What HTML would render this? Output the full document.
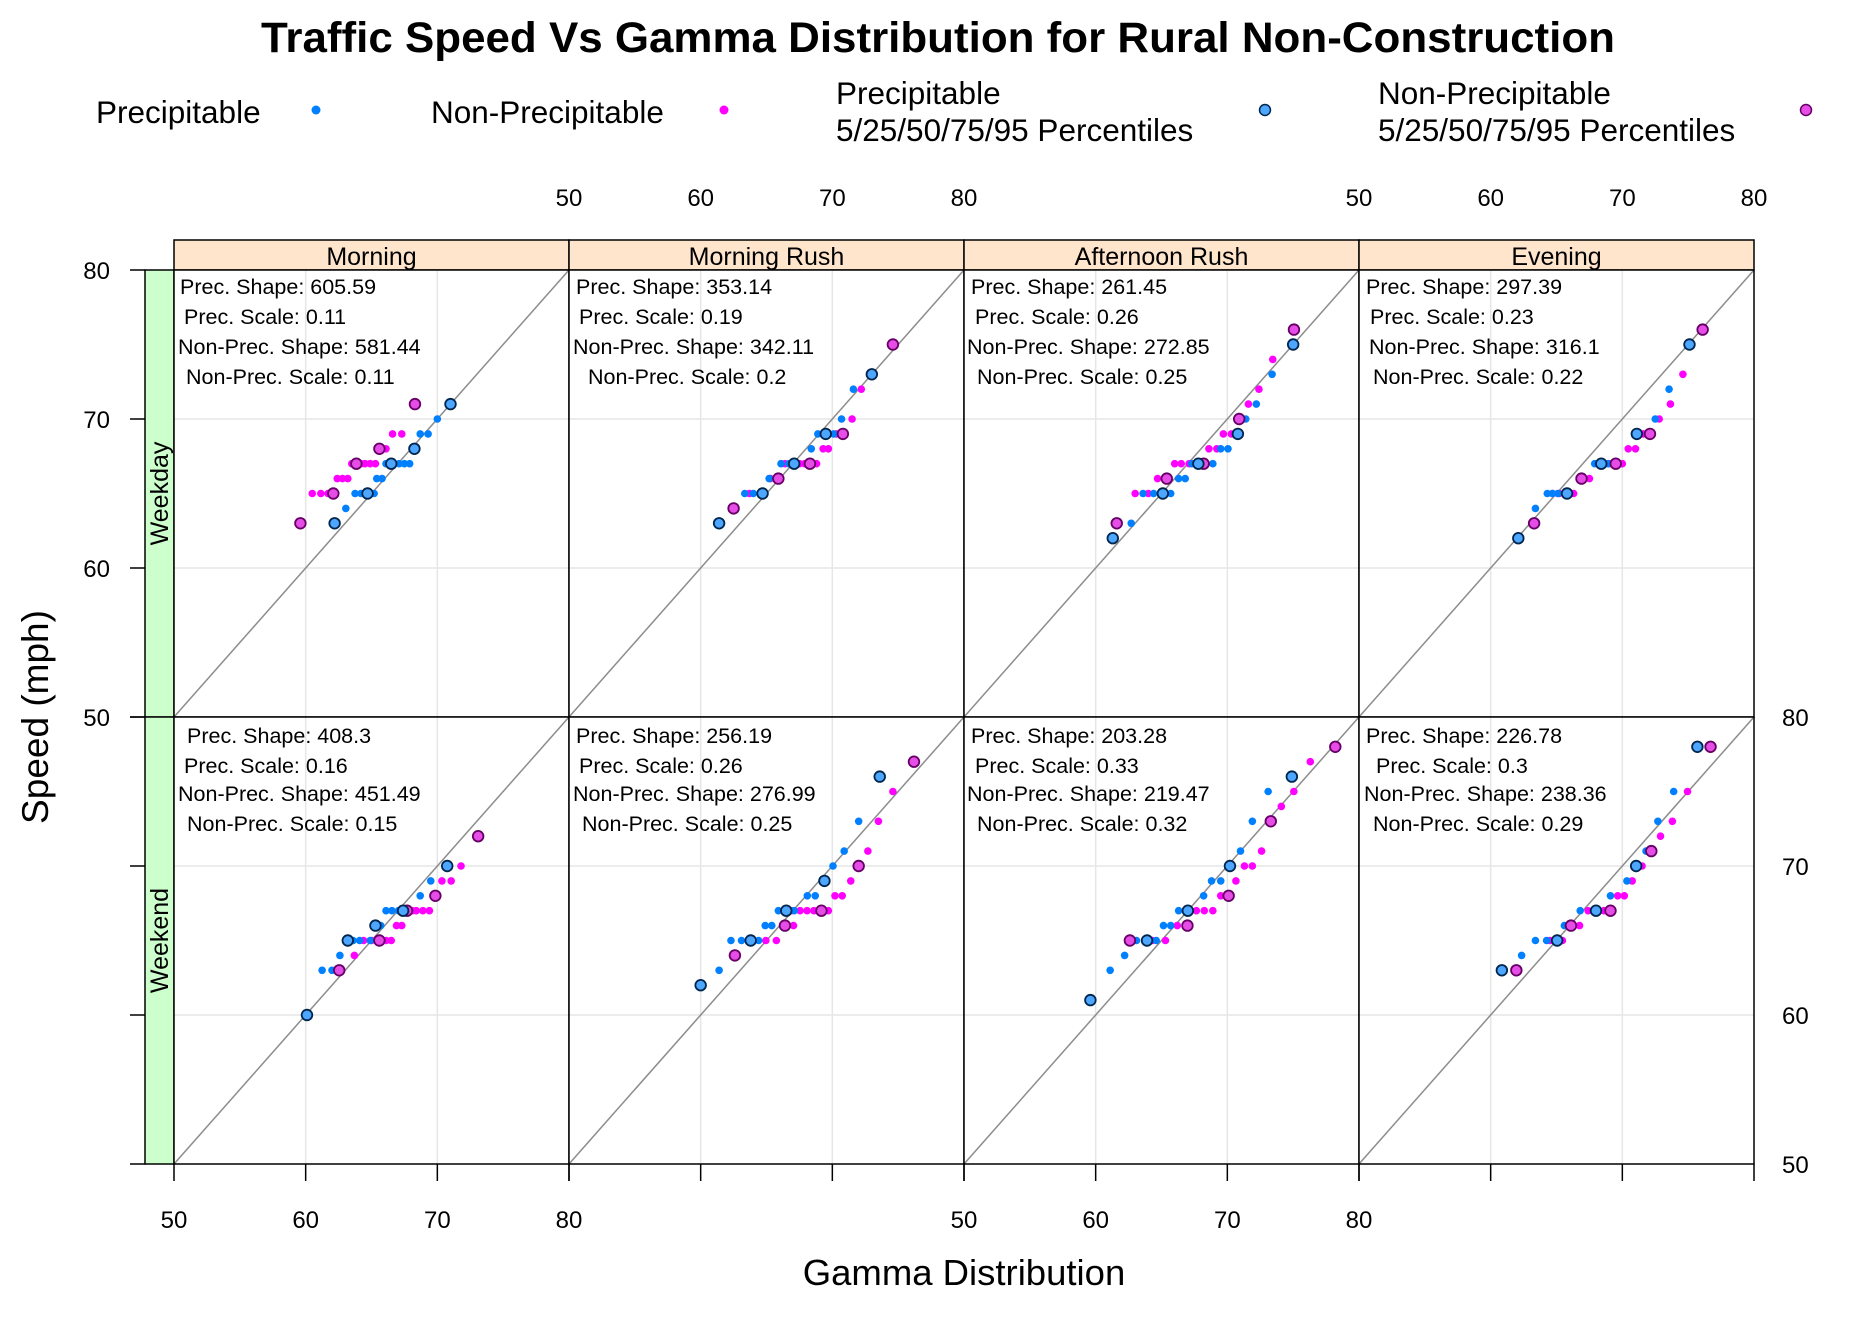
<!DOCTYPE html>
<html><head><meta charset="utf-8"><style>
html,body{margin:0;padding:0;background:#fff;}
svg{display:block;font-family:"Liberation Sans",Arial,sans-serif;}
</style></head><body>
<svg id="chart" width="1870" height="1320" viewBox="0 0 1870 1320">
<text x="938" y="52" text-anchor="middle" font-size="43" font-weight="bold" textLength="1354" lengthAdjust="spacingAndGlyphs">Traffic Speed Vs Gamma Distribution for Rural Non-Construction</text>
<g font-size="31.5">
<text x="96" y="123">Precipitable</text>
<circle cx="316" cy="110" r="4.5" fill="#0080ff"/>
<text x="431" y="123">Non-Precipitable</text>
<circle cx="724" cy="110" r="4.5" fill="#ff00ff"/>
<text x="836" y="104"><tspan x="836">Precipitable</tspan><tspan x="836" dy="37">5/25/50/75/95 Percentiles</tspan></text>
<circle cx="1265" cy="110" r="5.5" fill="#4da6ff" stroke="#00264d" stroke-width="1.5"/>
<text x="1378" y="104"><tspan x="1378">Non-Precipitable</tspan><tspan x="1378" dy="37">5/25/50/75/95 Percentiles</tspan></text>
<circle cx="1806" cy="110" r="5.5" fill="#e64de6" stroke="#660066" stroke-width="1.5"/>
</g>
<text x="964" y="1285" text-anchor="middle" font-size="36.5">Gamma Distribution</text>
<text x="0" y="0" transform="translate(48,717) rotate(-90)" text-anchor="middle" font-size="37">Speed (mph)</text>
<g id="plots"></g>
</svg>
<script>
const columns = ["Morning","Morning Rush","Afternoon Rush","Evening"];
const rows = ["Weekday","Weekend"];
const xTicks = [50,60,70,80];
const yTicks = [50,60,70,80];
const annotations = [
 ["Prec. Shape: 605.59","Prec. Scale: 0.11","Non-Prec. Shape: 581.44","Non-Prec. Scale: 0.11"],
 ["Prec. Shape: 353.14","Prec. Scale: 0.19","Non-Prec. Shape: 342.11","Non-Prec. Scale: 0.2"],
 ["Prec. Shape: 261.45","Prec. Scale: 0.26","Non-Prec. Shape: 272.85","Non-Prec. Scale: 0.25"],
 ["Prec. Shape: 297.39","Prec. Scale: 0.23","Non-Prec. Shape: 316.1","Non-Prec. Scale: 0.22"],
 ["Prec. Shape: 408.3","Prec. Scale: 0.16","Non-Prec. Shape: 451.49","Non-Prec. Scale: 0.15"],
 ["Prec. Shape: 256.19","Prec. Scale: 0.26","Non-Prec. Shape: 276.99","Non-Prec. Scale: 0.25"],
 ["Prec. Shape: 203.28","Prec. Scale: 0.33","Non-Prec. Shape: 219.47","Non-Prec. Scale: 0.32"],
 ["Prec. Shape: 226.78","Prec. Scale: 0.3","Non-Prec. Shape: 238.36","Non-Prec. Scale: 0.29"]
];
const annoOffsets = [[6,10,4,12],[7,10,4,19],[7,11,3,13],[7,11,10,14],[13,10,4,13],[7,10,4,13],[7,11,3,13],[7,17,5,14]];
const precX = [
 [63.05,63.75,64.2,64.7,65.2,65.4,65.8,66.1,66.5,67.1,67.5,67.9,68.26,68.7,69.3,70.0,62.2,71.0],
 [61.4,63.35,64.0,64.7,65.2,66.1,66.7,67.1,68.4,68.9,69.5,70.1,70.7,71.6,73.0],
 [61.3,62.7,63.6,64.4,65.1,65.7,66.3,66.8,67.3,67.8,68.9,69.5,70.05,70.8,71.4,72.2,73.4,75.0],
 [62.1,63.4,64.3,64.7,65.1,65.8,67.9,68.4,68.9,71.1,72.5,73.55,75.1],
 [60.1,61.25,62.0,62.6,63.2,63.6,64.1,64.9,65.3,65.7,66.1,66.55,67.05,67.4,68.7,69.5,70.75],
 [60.0,61.4,62.3,63.1,63.8,64.4,64.9,65.4,65.9,66.5,67.1,68.1,68.7,69.4,70.05,70.9,72.0,73.6],
 [59.6,61.1,62.2,63.1,63.9,64.6,65.15,65.7,66.3,67.0,68.2,68.8,69.5,70.2,71.0,71.9,73.1,74.9],
 [60.85,62.35,63.4,64.25,65.05,65.6,66.8,68.0,69.1,70.35,71.05,71.8,72.7,73.9,75.7]
];
const precY = [
 [64,65,65,65,65,66,66,67,67,67,67,67,68,69,69,70,63,71],
 [63,65,65,65,66,67,67,67,68,69,69,69,70,72,73],
 [62,63,65,65,65,65,66,66,67,67,67,68,68,69,70,71,73,75],
 [62,64,65,65,65,65,67,67,67,69,70,72,75],
 [60,63,63,64,65,65,65,65,66,66,67,67,67,67,68,69,70],
 [62,63,65,65,65,65,66,66,67,67,67,68,68,69,70,71,73,76],
 [61,63,64,65,65,65,66,66,67,67,68,69,69,70,71,73,75,76],
 [63,64,65,65,65,66,67,67,68,69,70,71,73,75,78]
];
const nonX = [
 [59.6,60.5,61.15,61.7,62.1,62.4,62.8,63.2,63.5,63.85,64.2,64.5,64.9,65.3,65.6,66.1,66.6,67.3,68.3],
 [62.5,63.7,65.3,65.9,66.4,67.5,67.9,68.3,68.8,69.3,69.7,70.3,70.8,71.5,72.2,74.6],
 [61.6,63.0,64.0,64.7,65.4,66.0,66.5,67.1,67.6,68.2,68.6,69.2,69.7,70.3,70.9,71.6,72.4,73.45,75.06],
 [63.3,64.7,65.2,66.3,66.9,67.5,69.0,69.5,70.0,70.45,71.0,71.6,72.1,72.8,73.65,74.6,76.1],
 [62.55,63.7,64.4,65.0,65.6,66.1,66.5,66.9,67.3,67.7,68.1,68.4,68.9,69.4,69.85,70.35,71.05,71.8,73.1],
 [62.6,64.95,65.75,66.4,67.05,66.87,67.55,68.08,68.6,69.17,69.7,70.2,70.75,71.4,72.0,72.7,73.5,74.6,76.2],
 [62.6,64.3,65.3,66.2,66.97,67.65,68.25,68.9,69.5,70.1,70.65,71.3,71.9,72.6,73.3,74.1,75.05,76.3,78.2],
 [61.95,64.5,65.45,66.1,66.75,67.4,68.6,69.1,69.65,70.15,70.75,71.5,72.2,72.9,73.8,74.95,76.7]
];
const nonY = [
 [63,65,65,65,65,66,66,66,67,67,67,67,67,67,68,68,69,69,71],
 [64,65,66,66,67,67,67,67,67,68,68,69,69,70,72,75],
 [63,65,65,66,66,67,67,67,67,67,68,68,69,69,70,71,72,74,76],
 [63,65,65,65,66,66,67,67,67,68,68,69,69,70,71,73,76],
 [63,64,65,65,65,65,65,66,66,67,67,67,67,67,68,69,69,70,72],
 [64,65,65,66,66,67,67,67,67,67,67,68,68,69,70,71,73,75,77],
 [65,65,65,66,66,67,67,67,68,68,69,70,70,71,73,74,75,77,78],
 [63,65,65,66,66,67,67,67,68,68,69,70,71,72,73,75,78]
];
const precPctX = [[62.2,64.7,66.5,68.26,71.0],[61.4,64.7,67.1,69.5,73.0],[61.3,65.1,67.8,70.8,75.0],[62.1,65.8,68.4,71.1,75.1],[60.1,63.2,65.3,67.4,70.75],[60.0,63.8,66.5,69.4,73.6],[59.6,63.9,67.0,70.2,74.9],[60.85,65.05,68.0,71.05,75.7]];
const precPctY = [[63,65,67,68,71],[63,65,67,69,73],[62,65,67,69,75],[62,65,67,69,75],[60,65,66,67,70],[62,65,67,69,76],[61,65,67,70,76],[63,65,67,70,78]];
const nonPctX = [[59.6,62.1,63.85,65.6,68.3],[62.5,65.9,68.3,70.8,74.6],[61.6,65.4,68.2,70.9,75.06],[63.3,66.9,69.5,72.1,76.1],[62.55,65.6,67.7,69.85,73.1],[62.6,66.4,69.17,72.0,76.2],[62.6,66.97,70.1,73.3,78.2],[61.95,66.1,69.1,72.2,76.7]];
const nonPctY = [[63,65,67,68,71],[64,66,67,69,75],[63,66,67,70,76],[63,66,67,69,76],[63,65,67,68,72],[64,66,67,70,77],[65,66,68,73,78],[63,66,67,71,78]];

const NS = "http://www.w3.org/2000/svg";
const PL = 174, PW = 395, PT = 270, PH = 447;
function mk(tag, attrs, parent){ const e=document.createElementNS(NS,tag); for(const k in attrs) e.setAttribute(k,attrs[k]); parent.appendChild(e); return e; }
function xs(c, v){ return PL + c*PW + (v-50)/30*PW; }
function ys(r, v){ return PT + (r+1)*PH - (v-50)/30*PH; }
const root = document.getElementById("plots");

columns.forEach((name,c)=>{
  const s = mk("rect",{x:PL+c*PW,y:240,width:PW,height:30,fill:"#ffe5cc",stroke:"#000","stroke-width":1.5},root);
  
  
  const t = mk("text",{x:PL+c*PW+PW/2,y:265,"text-anchor":"middle","font-size":25},root);
  t.textContent = name;
  
  
});
rows.forEach((name,r)=>{
  const s = mk("rect",{x:145,y:PT+r*PH,width:29,height:PH,fill:"#ccffcc",stroke:"#000","stroke-width":1.5},root);
  
  
  const cy = PT+r*PH+PH/2;
  const t = mk("text",{x:0,y:0,transform:`translate(168,${cy}) rotate(-90)`,"text-anchor":"middle","font-size":25},root);
  t.textContent = name;
  
  
});

for(let r=0;r<2;r++){
  for(let c=0;c<4;c++){
    const p = r*4+c;
    const g = mk("g",{},root);
    
    
    mk("rect",{x:PL+c*PW,y:PT+r*PH,width:PW,height:PH,fill:"#fff"},g);
    [60,70].forEach(v=>{
      const gx = mk("line",{x1:xs(c,v),x2:xs(c,v),y1:PT+r*PH,y2:PT+(r+1)*PH,stroke:"#e6e6e6","stroke-width":1.5},g);
      
      
      const gy = mk("line",{x1:PL+c*PW,x2:PL+(c+1)*PW,y1:ys(r,v),y2:ys(r,v),stroke:"#e6e6e6","stroke-width":1.5},g);
      
      
    });
    const d = mk("line",{x1:xs(c,50),y1:ys(r,50),x2:xs(c,80),y2:ys(r,80),stroke:"#8c8c8c","stroke-width":1.5},g);
    
    
    annotations[p].forEach((line,i)=>{
      const yy = r===0 ? [294,324,354,384][i] : [743,773,801,831][i];
      const t = mk("text",{x:PL+c*PW+annoOffsets[p][i],y:yy,"font-size":21.5},g);
      t.textContent = line;
      
      
    });
    nonX[p].forEach((v,i)=>{
      const e = mk("circle",{cx:xs(c,v),cy:ys(r,nonY[p][i]),r:3.8,fill:"#ff00ff"},g);
      
      
    });
    precX[p].forEach((v,i)=>{
      const e = mk("circle",{cx:xs(c,v),cy:ys(r,precY[p][i]),r:3.8,fill:"#0080ff"},g);
      
      
    });
    nonPctX[p].forEach((v,i)=>{
      const e = mk("circle",{cx:xs(c,v),cy:ys(r,nonPctY[p][i]),r:5.3,fill:"#e64de6",stroke:"#660066","stroke-width":1.8},g);
      
      
    });
    precPctX[p].forEach((v,i)=>{
      const e = mk("circle",{cx:xs(c,v),cy:ys(r,precPctY[p][i]),r:5.3,fill:"#4da6ff",stroke:"#00264d","stroke-width":1.8},g);
      
      
    });
    const b = mk("rect",{x:PL+c*PW,y:PT+r*PH,width:PW,height:PH,fill:"none",stroke:"#000","stroke-width":1.5},g);
    
    
  }
}

const ax = mk("g",{},root);


for(let c=0;c<4;c++){
  xTicks.forEach(v=>{
    const tk = mk("line",{x1:xs(c,v),x2:xs(c,v),y1:1164,y2:1181,stroke:"#000","stroke-width":1.5},ax);
    
    
    if(c%2===0){
      const t = mk("text",{x:xs(c,v),y:1228,"text-anchor":"middle","font-size":24},ax);
      t.textContent = v;
      
      
    } else {
      const t = mk("text",{x:xs(c,v),y:206,"text-anchor":"middle","font-size":24},ax);
      t.textContent = v;
      
      
    }
  });
}
for(let r=0;r<2;r++){
  yTicks.forEach(v=>{
    const tk = mk("line",{x1:130,x2:145,y1:ys(r,v),y2:ys(r,v),stroke:"#000","stroke-width":1.5},ax);
    
    
    if(r===0){
      const t = mk("text",{x:110,y:ys(r,v)+9,"text-anchor":"end","font-size":24},ax);
      t.textContent = v;
      
      
    } else {
      const t = mk("text",{x:PL+4*PW+28,y:ys(r,v)+9,"font-size":24},ax);
      t.textContent = v;
      
      
    }
  });
}
</script>
</body></html>
